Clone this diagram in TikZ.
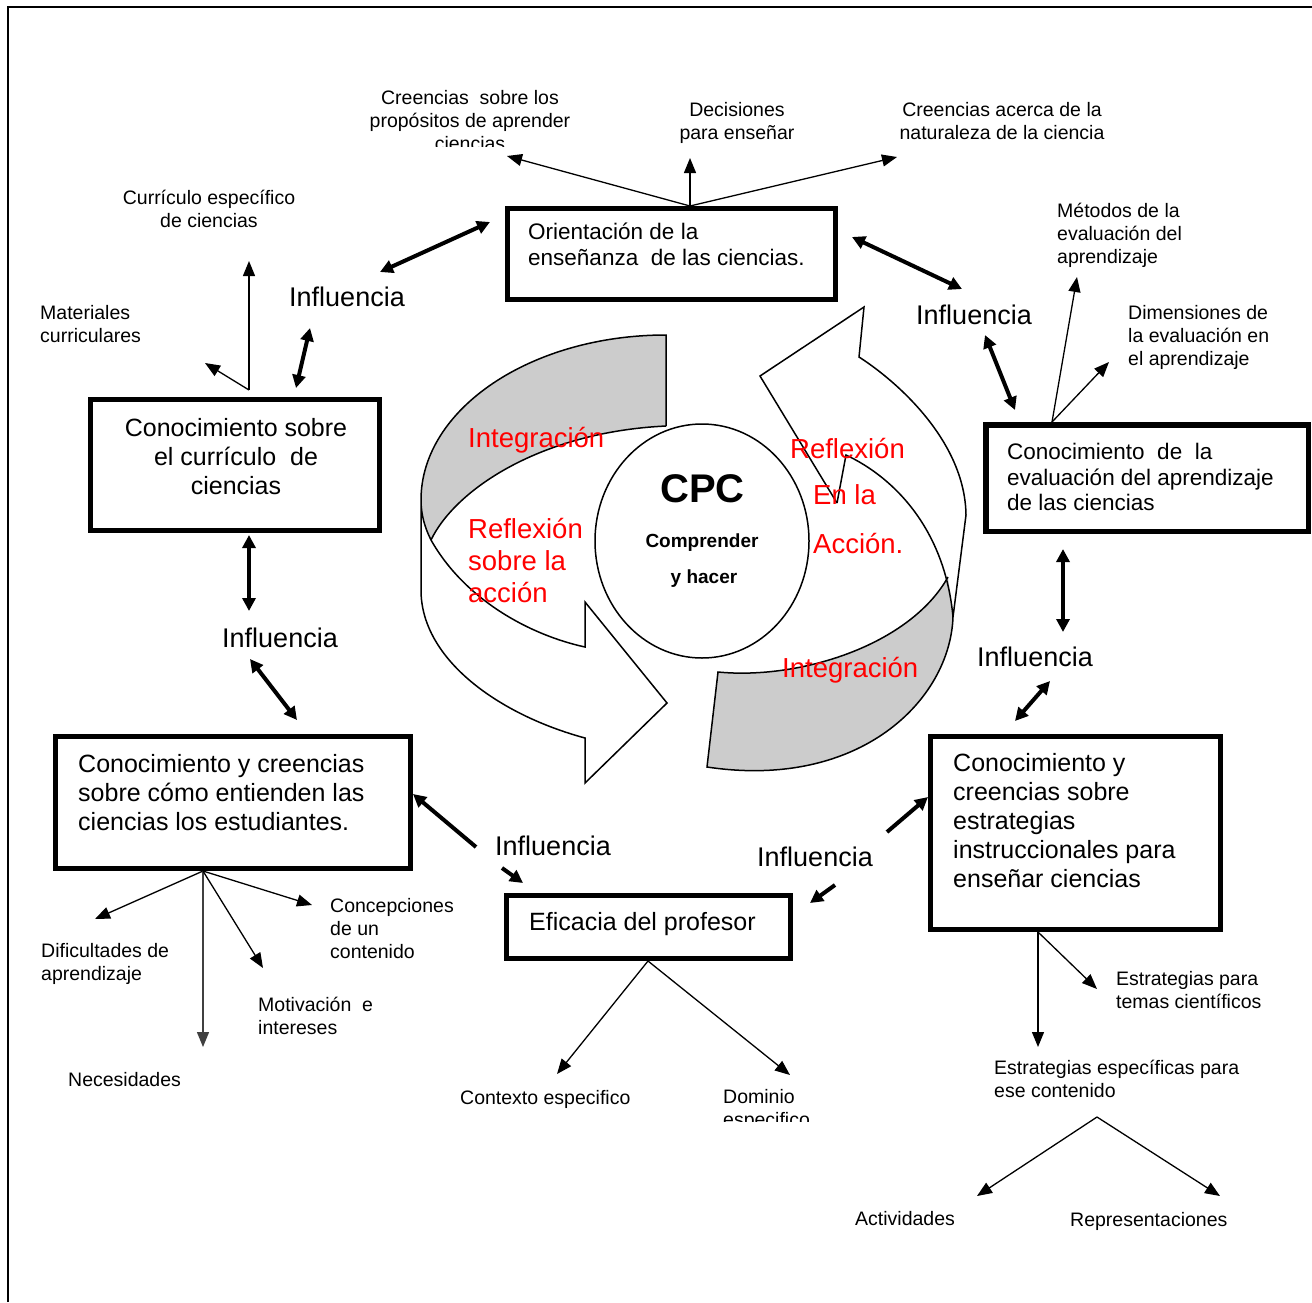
\documentclass[tikz,border=0pt]{standalone}
\usepackage{fontspec}
\setmainfont{Liberation Sans}
\usetikzlibrary{arrows.meta,shapes.geometric}
\begin{document}
\begin{tikzpicture}[x=1pt,y=-1pt,
  thinarr/.style={line width=1.3pt,-{Triangle[length=15pt,width=12pt]}},
  grayarr/.style={thinarr,draw=black!75},
  thickarr/.style={line width=4pt,-{Triangle[length=13pt,width=13pt]}},
  dblarr/.style={line width=4pt,{Triangle[length=13pt,width=13pt]}-{Triangle[length=13pt,width=13pt]}},
  box/.style={draw,line width=5pt,inner sep=0pt},
  lbl/.style={inner sep=0pt,font=\fontsize{19.5}{23}\selectfont},
  infl/.style={inner sep=0pt,font=\fontsize{27}{30}\selectfont},
  btxt/.style={inner sep=0pt,font=\fontsize{25}{29}\selectfont},
  mtxt/.style={inner sep=0pt,font=\fontsize{22.5}{26}\selectfont},
  redtxt/.style={inner sep=0pt,text=red,font=\fontsize{27.5}{32}\selectfont},
  shape line/.style={line width=1.5pt,line join=miter}
]
\useasboundingbox (0,0) rectangle (1312,1302);
\fill[white] (0,0) rectangle (1312,1302);
% frame
\draw[line width=2pt] (8,1302) -- (8,7) -- (1312,7);

% ---------- central curved arrows ----------
% left arrow: gray back band
\fill[black!20] (666,335) .. controls (531,335) and (421,409) .. (421,500)
  .. controls (421,515) and (425,528) .. (431,540)
  .. controls (455,490) and (540,432) .. (666,426) -- cycle;
\draw[shape line] (666,426) -- (666,335) .. controls (531,335) and (421,409) .. (421,500)
  -- (421,590) .. controls (421,660) and (500,715) .. (585,738)
  -- (585,783) -- (667,703) -- (585,602) -- (585,647)
  .. controls (530,635) and (465,600) .. (431,540)
  .. controls (425,528) and (421,515) .. (421,500);
\draw[shape line] (431,540) .. controls (455,490) and (540,432) .. (666,426);

% right arrow: gray band
\fill[black!20] (718,672) .. controls (800,680) and (910,645) .. (948,577)
  -- (953,617) .. controls (950,700) and (860,790) .. (707,767) -- cycle;
\draw[shape line] (837,503) -- (760,376) -- (864,307) -- (859,357)
  .. controls (895,380) and (965,440) .. (966,515) -- (953,617)
  .. controls (950,700) and (860,790) .. (707,767) -- (718,672)
  .. controls (800,680) and (910,645) .. (948,577);
\draw[shape line] (837,503) -- (846,455) .. controls (895,478) and (945,530) .. (953,617);

% central circle
\node[draw,ellipse,line width=1.5pt,fill=white,inner sep=0pt,minimum width=214,minimum height=234] (cpccirc) at (702,541) {};
\node[inner sep=0pt,anchor=base,font=\fontsize{40}{44}\bfseries] (cpc) at (702.5,502) {CPC};
\node[inner sep=0pt,anchor=base,font=\fontsize{19}{22}\bfseries] (compr) at (702,547) {Comprender};
\node[inner sep=0pt,anchor=base,font=\fontsize{19}{22}\bfseries] (hacer) at (704,583) {y hacer};

% red labels
\node[redtxt,anchor=north west] (int1) at (468,427) {Integración};
\node[redtxt,anchor=north west,align=left] (refl1) at (468,518) {Reflexión\\sobre la\\acción};
\node[redtxt,anchor=north west] (refl2) at (790,438) {Reflexión};
\node[redtxt,anchor=north west] (enla) at (813,484) {En la};
\node[redtxt,anchor=north west] (accion) at (813,533) {Acción.};
\node[redtxt,anchor=north west] (int2) at (782,657) {Integración};

% ---------- boxes ----------
\node[box,minimum width=328,minimum height=91] (ori) at (671.5,254) {};
\node[mtxt,anchor=north west,align=left] (oritxt) at (528,223) {Orientación de la\\enseñanza\ \ de las ciencias.};

\node[box,minimum width=289,minimum height=131] (cur) at (235,465) {};
\node[btxt,anchor=north,align=center] (curtxt) at (236,418) {Conocimiento sobre\\el currículo\ \ de\\ciencias};

\node[box,minimum width=355,minimum height=132] (est) at (233,802.5) {};
\node[btxt,anchor=north west,align=left] (esttxt) at (78,754) {Conocimiento y creencias\\sobre cómo entienden las\\ciencias los estudiantes.};

\node[box,minimum width=284,minimum height=63] (efi) at (648.5,927) {};
\node[btxt,anchor=north west] (efitxt) at (529,912) {Eficacia del profesor};

\node[box,line width=5.5pt,minimum width=322.5,minimum height=106.5] (eva) at (1147,478) {};
\node[inner sep=0pt,font=\fontsize{22.5}{25.5}\selectfont,anchor=north west,align=left] (evatxt) at (1007,443) {Conocimiento\ \ de\ \ la\\evaluación del aprendizaje\\de las ciencias};

\node[box,minimum width=290,minimum height=193] (ins) at (1075.5,833) {};
\node[btxt,anchor=north west,align=left] (instxt) at (953,753) {Conocimiento y\\creencias sobre\\estrategias\\instruccionales para\\enseñar ciencias};

% ---------- small labels ----------
\begin{scope}
\clip (330,60) rectangle (620,146);
\node[lbl,anchor=north,align=center] (crsob) at (470,90) {Creencias\ \ sobre los\\propósitos de aprender\\ciencias};
\end{scope}
\node[lbl,anchor=north,align=center] (decis) at (737,102) {Decisiones\\para enseñar};
\node[lbl,anchor=north,align=center] (crac) at (1002,102) {Creencias acerca de la\\naturaleza de la ciencia};
\node[lbl,anchor=north,align=center] (curesp) at (209,190) {Currículo específico\\de ciencias};
\node[lbl,anchor=north west,align=left] (mater) at (40,305) {Materiales\\curriculares};
\node[lbl,anchor=north west,align=left] (metod) at (1057,203) {Métodos de la\\evaluación del\\aprendizaje};
\node[lbl,anchor=north west,align=left] (dimen) at (1128,305) {Dimensiones de\\la evaluación en\\el aprendizaje};
\node[lbl,anchor=north west,align=left] (dific) at (41,943) {Dificultades de\\aprendizaje};
\node[lbl,anchor=north west] (neces) at (68,1072) {Necesidades};
\node[lbl,anchor=north west,align=left] (motiv) at (258,997) {Motivación\ \ e\\intereses};
\node[lbl,anchor=north west,align=left] (conce) at (330,898) {Concepciones\\de un\\contenido};
\node[lbl,anchor=north west] (conte) at (460,1090) {Contexto especifico};
\begin{scope}
\clip (700,1070) rectangle (900,1121);
\node[lbl,anchor=north west,align=left] (domin) at (723,1089) {Dominio\\especifico};
\end{scope}
\node[lbl,anchor=north west,align=left] (estpara) at (1116,971) {Estrategias para\\temas científicos};
\node[lbl,anchor=north west,align=left] (estesp) at (994,1060) {Estrategias específicas para\\ese contenido};
\node[lbl,anchor=north west] (activ) at (855,1211) {Actividades};
\node[lbl,anchor=north west] (repre) at (1070,1212) {Representaciones};

% Influencia labels
\node[infl] (inf1) at (347,297) {Influencia};
\node[infl] (inf2) at (974,315) {Influencia};
\node[infl] (inf3) at (280,638) {Influencia};
\node[infl] (inf4) at (1035,657) {Influencia};
\node[infl] (inf5) at (553,846) {Influencia};
\node[infl] (inf6) at (815,857) {Influencia};

% ---------- connector end points ----------
\coordinate (oriTop) at (690,206);
\coordinate (pCrSob) at (507,156);
\coordinate (pDecis) at (690,158);
\coordinate (pCrAc) at (897,157);
\coordinate (curTop) at (249,390);
\coordinate (pCurEsp) at (249,261);
\coordinate (pMater) at (205,363);
\coordinate (evaTop) at (1052,422);
\coordinate (pMetod) at (1077,277);
\coordinate (pDimen) at (1109,362);
\coordinate (estBot) at (203,871);
\coordinate (pDific) at (95,919);
\coordinate (pNeces) at (203,1047);
\coordinate (pMotiv) at (263,968);
\coordinate (pConce) at (312,905);
\coordinate (efiBot) at (648,961);
\coordinate (pConte) at (557,1074);
\coordinate (pDomin) at (790,1075);
\coordinate (insBot) at (1038,932);
\coordinate (pEstEsp) at (1038,1047);
\coordinate (pEstPara) at (1097,989);
\coordinate (peak) at (1097,1117);
\coordinate (pActiv) at (977,1196);
\coordinate (pRepre) at (1220,1196);

% thick connector ends
\coordinate (t1a) at (380,272); \coordinate (t1b) at (490,222);
\coordinate (t2a) at (296,388); \coordinate (t2b) at (310,328);
\coordinate (t3a) at (249,535); \coordinate (t3b) at (249,611);
\coordinate (t4a) at (250,659); \coordinate (t4b) at (297,720);
\coordinate (t5a) at (476,847); \coordinate (t5b) at (413,794);
\coordinate (t6a) at (502,868); \coordinate (t6b) at (523,883);
\coordinate (t7a) at (835,885); \coordinate (t7b) at (810,903);
\coordinate (t8a) at (887,832); \coordinate (t8b) at (928,797);
\coordinate (t9a) at (1015,721); \coordinate (t9b) at (1050,681);
\coordinate (t10a) at (1063,549); \coordinate (t10b) at (1063,632);
\coordinate (t11a) at (852,237); \coordinate (t11b) at (962,289);
\coordinate (t12a) at (985,335); \coordinate (t12b) at (1015,410);

% ---------- thin arrows ----------
\draw[thinarr] (oriTop) -- (pCrSob);
\draw[thinarr] (oriTop) -- (pDecis);
\draw[thinarr] (oriTop) -- (pCrAc);
\draw[thinarr] (curTop) -- (pCurEsp);
\draw[thinarr] (curTop) -- (pMater);
\draw[thinarr] (evaTop) -- (pMetod);
\draw[thinarr] (evaTop) -- (pDimen);
\draw[thinarr] (estBot) -- (pDific);
\draw[grayarr] (estBot) -- (pNeces);
\draw[thinarr] (estBot) -- (pMotiv);
\draw[thinarr] (estBot) -- (pConce);
\draw[thinarr] (efiBot) -- (pConte);
\draw[thinarr] (efiBot) -- (pDomin);
\draw[thinarr] (insBot) -- (pEstEsp);
\draw[thinarr] (insBot) -- (pEstPara);
\draw[thinarr] (peak) -- (pActiv);
\draw[thinarr] (peak) -- (pRepre);

% ---------- thick arrows ----------
\draw[dblarr] (t1a) -- (t1b);
\draw[dblarr] (t2a) -- (t2b);
\draw[dblarr] (t3a) -- (t3b);
\draw[dblarr] (t4a) -- (t4b);
\draw[thickarr] (t5a) -- (t5b);
\draw[thickarr] (t6a) -- (t6b);
\draw[thickarr] (t7a) -- (t7b);
\draw[thickarr] (t8a) -- (t8b);
\draw[dblarr] (t9a) -- (t9b);
\draw[dblarr] (t10a) -- (t10b);
\draw[dblarr] (t11a) -- (t11b);
\draw[dblarr] (t12a) -- (t12b);
\end{tikzpicture}
\end{document}
